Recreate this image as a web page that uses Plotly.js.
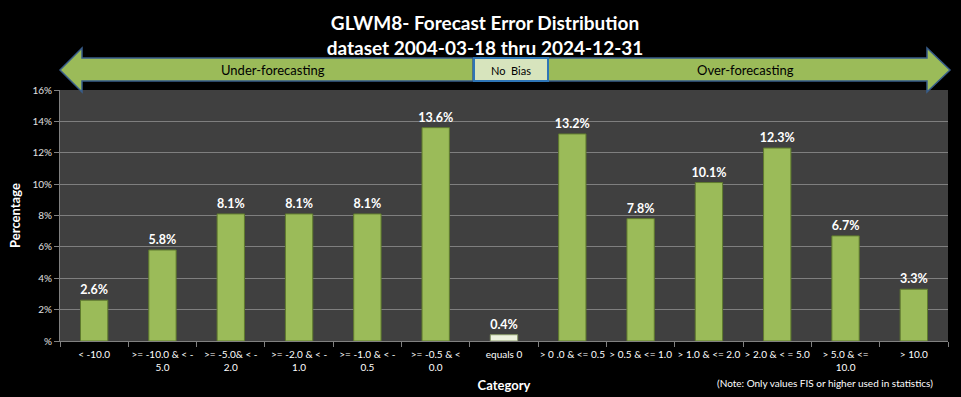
<!DOCTYPE html>
<html>
<head>
<meta charset="utf-8">
<script src="https://cdn.plot.ly/plotly-3.0.1.min.js"></script>
<style>html,body{margin:0;padding:0;background:#000;}#chart{width:961px;height:397px;}</style>
</head>
<body>
<div id="chart"></div>
<script>
var categories = [
  "&lt; -10.0",
  "&gt;= -10.0 &amp; &lt; -<br>5.0",
  "&gt;= -5.0&amp; &lt; -<br>2.0",
  "&gt;= -2.0 &amp; &lt; -<br>1.0",
  "&gt;= -1.0 &amp; &lt; -<br>0.5",
  "&gt;= -0.5 &amp; &lt;<br>0.0",
  "equals 0",
  "&gt; 0 .0 &amp; &lt;= 0.5",
  "&gt; 0.5 &amp; &lt;= 1.0",
  "&gt; 1.0 &amp; &lt;= 2.0",
  "&gt; 2.0 &amp; &lt; = 5.0",
  "&gt; 5.0 &amp; &lt;=<br>10.0",
  "&gt; 10.0"
];
var percentages = [2.6, 5.8, 8.1, 8.1, 8.1, 13.6, 0.4, 13.2, 7.8, 10.1, 12.3, 6.7, 3.3];
var yTickVals = [0, 2, 4, 6, 8, 10, 12, 14, 16];
var yTickText = ["%", "2%", "4%", "6%", "8%", "10%", "12%", "14%", "16%"];

var FONT = "Lato, 'Open Sans', sans-serif";
var W = 961, H = 397, L = 60, R = 948, T = 90, B = 341;
function px(x){ return (x - L) / (R - L); }
function py(y){ return (B - y) / (B - T); }
function path(pts){
  return pts.map(function(p, i){ return (i ? "L" : "M") + px(p[0]).toFixed(5) + "," + py(p[1]).toFixed(5); }).join(" ") + " Z";
}

var colors = categories.map(function(c){ return c === "equals 0" ? "#eef3df" : "#9bbb59"; });
var lineColors = categories.map(function(c){ return c === "equals 0" ? "#8a9a6a" : "#5f7a2e"; });

var trace = {
  type: "bar",
  x: categories,
  y: percentages,
  marker: { color: colors, line: { color: lineColors, width: 1 } },
  text: percentages.map(function(v){ return "<b>" + v.toFixed(1) + "%</b>"; }),
  textposition: "outside",
  constraintext: "none",
  cliponaxis: false,
  textfont: { family: FONT, size: 12.5, color: "#ffffff" },
  hoverinfo: "x+y"
};

var layout = {
  width: W, height: H,
  paper_bgcolor: "#000000",
  plot_bgcolor: "#404040",
  margin: { l: L, r: W - R, t: T, b: H - B },
  showlegend: false,
  bargap: 0.6,
  font: { family: FONT, color: "#ffffff" },
  title: {
    text: "<b>GLWM8- Forecast Error Distribution<br>dataset 2004-03-18 thru 2024-12-31</b>",
    font: { family: FONT, size: 19, color: "#ffffff" },
    x: 485 / W, xanchor: "center", xref: "container",
    y: 1 - 30 / H, yanchor: "top", yref: "container"
  },
  xaxis: {
    type: "category",
    tickson: "boundaries",
    ticks: "outside", ticklen: 5, tickcolor: "#808080",
    ticklabelstandoff: 4,
    showline: true, linecolor: "#808080", linewidth: 1,
    showgrid: false,
    tickfont: { family: FONT, size: 10, color: "#ffffff" },
    tickangle: 0,
    title: { text: "<b>Category</b>", font: { family: FONT, size: 13, color: "#ffffff" }, standoff: 8 }
  },
  yaxis: {
    range: [0, 16],
    tickvals: yTickVals, ticktext: yTickText,
    ticks: "outside", ticklen: 5, tickcolor: "#808080",
    showline: true, linecolor: "#808080", linewidth: 1,
    gridcolor: "#7f7f7f", gridwidth: 1,
    zeroline: false,
    tickfont: { family: FONT, size: 10, color: "#e0e0e0" },
    title: { text: "<b>Percentage</b>", font: { family: FONT, size: 13, color: "#ffffff" }, standoff: 8 }
  },
  shapes: [
    { type: "path", xref: "paper", yref: "paper", layer: "above",
      path: path([[60,70],[82,48],[82,58],[473,58],[473,81],[82,81],[82,92]]),
      fillcolor: "#9bbb59", line: { color: "#385d8a", width: 1.5 } },
    { type: "path", xref: "paper", yref: "paper", layer: "above",
      path: path([[548,58],[927,58],[927,48],[950,70],[927,92],[927,81],[548,81]]),
      fillcolor: "#9bbb59", line: { color: "#385d8a", width: 1.5 } },
    { type: "rect", xref: "paper", yref: "paper", layer: "above",
      x0: px(474), x1: px(548), y0: py(81), y1: py(58),
      fillcolor: "#d7e4bd", line: { color: "#2e75b6", width: 2 } }
  ],
  annotations: [
    { xref: "paper", yref: "paper", x: px(273), y: py(70), xanchor: "center", yanchor: "middle",
      text: "Under-forecasting", showarrow: false, font: { family: FONT, size: 13, color: "#000000" } },
    { xref: "paper", yref: "paper", x: px(511), y: py(70), xanchor: "center", yanchor: "middle",
      text: "No  Bias", showarrow: false, font: { family: FONT, size: 11, color: "#000000" } },
    { xref: "paper", yref: "paper", x: px(745), y: py(70), xanchor: "center", yanchor: "middle",
      text: "Over-forecasting", showarrow: false, font: { family: FONT, size: 13, color: "#000000" } },
    { xref: "paper", yref: "paper", x: px(825), y: py(383), xanchor: "center", yanchor: "middle",
      text: "(Note: Only values FIS or higher used in statistics)", showarrow: false,
      font: { family: FONT, size: 10, color: "#ffffff" } }
  ]
};

Plotly.newPlot("chart", [trace], layout, { displayModeBar: false, staticPlot: true });
</script>
</body>
</html>
